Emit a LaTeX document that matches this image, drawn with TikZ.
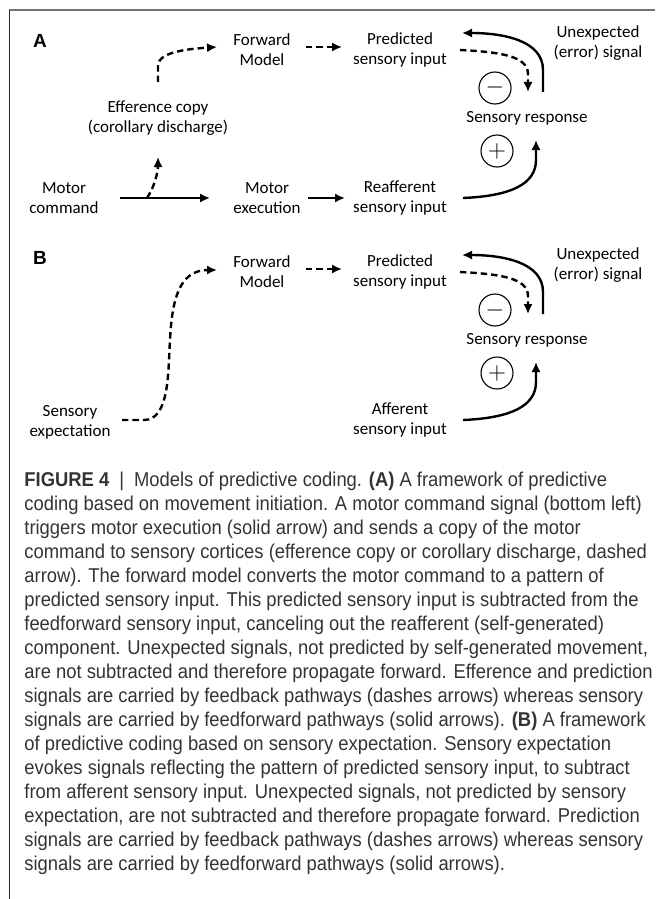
\documentclass[tikz,border=0pt]{standalone}
\usepackage{fontspec}
\usetikzlibrary{arrows.meta,calc}
\newfontfamily\diagfont{Carlito}
\newfontfamily\capfont[FakeStretch=0.92]{Liberation Sans}
\newfontfamily\panelfont{Liberation Sans}

\tikzset{
  lbl/.style={align=center, inner sep=0pt, font=\diagfont\fontsize{8.5}{10}\selectfont},
  panel/.style={inner sep=0pt, font=\panelfont\bfseries\fontsize{9.5}{10}\selectfont},
  flow/.style={line width=1.2pt, -{Latex[length=5pt,width=4.6pt]}},
  pred/.style={flow, dash pattern=on 3.2pt off 2pt},
  sign/.style={circle, draw, line width=0.55pt, minimum size=16pt, inner sep=0pt, font=\large},
}

\begin{document}
\begin{tikzpicture}[x=0.5pt, y=-0.5pt]
    \useasboundingbox (0,0) rectangle (655,899);
    \draw[black!55, line width=1pt] (9,10.5) -- (655,10.5);
    \draw[black!85, line width=0.8pt] (9.5,10) -- (9.5,899);

    % panel A
    \draw
    (40, 41) node[panel](LA){A}
    (262, 50) node[lbl](FM1){Forward\\Model}
    (400, 50) node[lbl](PS1){Predicted\\sensory input}
    (598, 43) node[lbl](UE1){Unexpected\\(error) signal}
    (158, 118) node[lbl](EC1){Efference copy\\(corollary discharge)}
    (527, 118) node[lbl](SR1){Sensory response}
    (64, 198) node[lbl](MC1){Motor\\command}
    (267, 198) node[lbl](ME1){Motor\\execution}
    (400, 198) node[lbl](RS1){Reafferent\\sensory input}
    (495, 88) node[sign](M1){$-$}
    (497, 151) node[sign](P1){$+$};

    \draw[flow] ($(MC1)+(56,0)$) -- coordinate[pos=0.3](CP1) ($(ME1)+(-57,0)$);
    \draw[pred] (CP1) .. controls +(8,-12) and +(0,14) .. ($(EC1)+(0,39)$);
    \draw[pred] ($(EC1)+(0,-36)$) -- ++(0,-16) .. controls +(0,-14) and +(-30,2) .. ($(FM1)+(-45,-3)$);
    \draw[pred] ($(FM1)+(44,-3)$) -- ($(PS1)+(-58,-3)$);
    \draw[flow] ($(ME1)+(41,0)$) -- ($(RS1)+(-55,0)$);
    \draw[pred] ($(PS1)+(60,0)$) .. controls +(40,2) and +(0,-18) .. ($(SR1)+(1,-44)$) -- ($(SR1)+(1,-26)$);
    \draw[flow] ($(SR1)+(16,-26)$) -- ($(SR1)+(16,-48)$) .. controls +(0,-30) and +(40,0) .. ($(PS1)+(62,-17)$);
    \draw[flow] ($(RS1)+(63,0)$) .. controls +(48,-2) and +(0,24) .. ($(SR1)+(9,42)$) -- ($(SR1)+(9,22)$);

    % panel B
    \draw
    (40, 258) node[panel](LB){B}
    (262, 272) node[lbl](FM2){Forward\\Model}
    (400, 272) node[lbl](PS2){Predicted\\sensory input}
    (598, 265) node[lbl](UE2){Unexpected\\(error) signal}
    (527, 340) node[lbl](SR2){Sensory response}
    (70, 422) node[lbl](SE2){Sensory\\expectation}
    (400, 420) node[lbl](AS2){Afferent\\sensory input}
    (495, 310) node[sign](M2){$-$}
    (497, 373) node[sign](P2){$+$};

    \draw[pred] ($(SE2)+(52,-2)$) -- ++(22,0) .. controls +(26,0) and +(-2,30) .. ++(26,-80)
      .. controls +(2,-40) and +(-38,0) .. ($(FM2)+(-45,-2)$);
    \draw[pred] ($(FM2)+(44,-3)$) -- ($(PS2)+(-58,-3)$);
    \draw[pred] ($(PS2)+(60,0)$) .. controls +(40,2) and +(0,-18) .. ($(SR2)+(1,-44)$) -- ($(SR2)+(1,-26)$);
    \draw[flow] ($(SR2)+(16,-26)$) -- ($(SR2)+(16,-48)$) .. controls +(0,-30) and +(40,0) .. ($(PS2)+(62,-17)$);
    \draw[flow] ($(AS2)+(63,0)$) .. controls +(48,-2) and +(0,24) .. ($(SR2)+(9,42)$) -- ($(SR2)+(9,22)$);

    % caption
    \node[anchor=north west, inner sep=0pt, align=left, text=black!80,
      font=\capfont\fontsize{10}{12}\selectfont] (CAP) at (24,472) {%
      \textbf{FIGURE 4}\enspace|\enspace Models of predictive coding. \textbf{(A)} A framework of predictive\\
      coding based on movement initiation. A motor command signal (bottom left)\\
      triggers motor execution (solid arrow) and sends a copy of the motor\\
      command to sensory cortices (efference copy or corollary discharge, dashed\\
      arrow). The forward model converts the motor command to a pattern of\\
      predicted sensory input. This predicted sensory input is subtracted from the\\
      feedforward sensory input, canceling out the reafferent (self-generated)\\
      component. Unexpected signals, not predicted by self-generated movement,\\
      are not subtracted and therefore propagate forward. Efference and prediction\\
      signals are carried by feedback pathways (dashes arrows) whereas sensory\\
      signals are carried by feedforward pathways (solid arrows). \textbf{(B)} A framework\\
      of predictive coding based on sensory expectation. Sensory expectation\\
      evokes signals reflecting the pattern of predicted sensory input, to subtract\\
      from afferent sensory input. Unexpected signals, not predicted by sensory\\
      expectation, are not subtracted and therefore propagate forward. Prediction\\
      signals are carried by feedback pathways (dashes arrows) whereas sensory\\
      signals are carried by feedforward pathways (solid arrows).};
\end{tikzpicture}
\end{document}
